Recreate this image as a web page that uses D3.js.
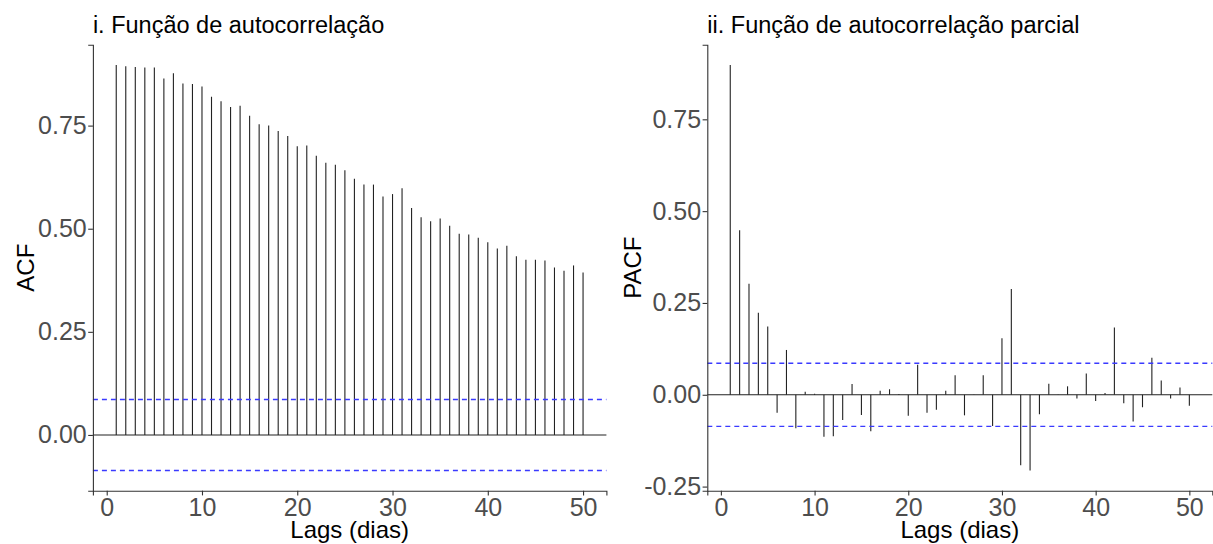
<!DOCTYPE html>
<html>
<head>
<meta charset="utf-8">
<script src="https://cdn.jsdelivr.net/npm/d3@7"></script>
<style>
  body { margin: 0; background: #fff; }
  svg { display: block; font-family: 'Liberation Sans', Arial, sans-serif; }
</style>
</head>
<body>
<div id="chart"></div>
<script>
// lags 1..50
const lags = [1,2,3,4,5,6,7,8,9,10,11,12,13,14,15,16,17,18,19,20,21,22,23,24,25,
  26,27,28,29,30,31,32,33,34,35,36,37,38,39,40,41,42,43,44,45,46,47,48,49,50]

const acfValues = [0.897,0.894,0.892,0.891,0.891,0.864,0.877,0.852,0.851,0.845,
  0.820,0.809,0.795,0.798,0.774,0.753,0.750,0.737,0.725,0.700,
  0.702,0.677,0.660,0.655,0.642,0.621,0.607,0.607,0.578,0.584,
  0.598,0.550,0.528,0.518,0.525,0.507,0.488,0.486,0.478,0.467,
  0.452,0.459,0.433,0.425,0.425,0.423,0.406,0.398,0.411,0.394]

const pacfValues = [0.898,0.448,0.302,0.223,0.186,-0.049,0.122,-0.091,0.008,0.003,
  -0.114,-0.113,-0.069,0.029,-0.055,-0.099,0.011,0.015,0.002,-0.057,
  0.082,-0.049,-0.041,0.011,0.053,-0.056,0.001,0.053,-0.085,0.154,
  0.288,-0.192,-0.206,-0.053,0.030,0.001,0.023,-0.010,0.058,-0.017,
  0.005,0.183,-0.023,-0.073,-0.034,0.101,0.039,-0.010,0.020,-0.030]

const ciBound = 0.086

const xTicks = [0, 10, 20, 30, 40, 50]
const acfTicks = [0, 0.25, 0.5, 0.75]
const pacfTicks = [-0.25, 0, 0.25, 0.5, 0.75]

const titles = ['i. Função de autocorrelação', 'ii. Função de autocorrelação parcial']
const yLabels = ['ACF', 'PACF']
const xLabel = 'Lags (dias)'

const width = 1213
const height = 544
const TICK_LEN = 4.7
const AXIS_COLOR = '#333333'
const TEXT_GREY = '#4d4d4d'

const svg = d3.select('#chart').append('svg')
  .attr('width', width)
  .attr('height', height)

// ggplot-ish 5% expansion
function expand (lo, hi) {
  const pad = (hi - lo) * 0.05
  return [lo - pad, hi + pad]
}

function drawPanel (opts) {
  const g = svg.append('g')

  const x = d3.scaleLinear()
    .domain(expand(d3.min(lags), d3.max(lags)))
    .range([opts.left, opts.right])

  const yMin = Math.min(d3.min(opts.values), -ciBound)
  const yMax = Math.max(d3.max(opts.values), ciBound)
  const y = d3.scaleLinear()
    .domain(expand(yMin, yMax))
    .range([opts.bottom, opts.top])

  // zero line
  g.append('line')
    .attr('x1', opts.left)
    .attr('x2', opts.right)
    .attr('y1', y(0))
    .attr('y2', y(0))
    .attr('stroke', '#222')
    .attr('stroke-width', 1.1)

  // spikes
  g.selectAll('.spike')
    .data(lags.map((l, i) => ({ lag: l, v: opts.values[i] })))
    .enter().append('line')
    .attr('class', 'spike')
    .attr('x1', d => x(d.lag))
    .attr('x2', d => x(d.lag))
    .attr('y1', y(0))
    .attr('y2', d => y(d.v))
    .attr('stroke', '#222')
    .attr('stroke-width', 1.1)

  // confidence bands, on top of the spikes
  g.selectAll('.ci')
    .data([ciBound, -ciBound])
    .enter().append('line')
    .attr('class', 'ci')
    .attr('x1', opts.left)
    .attr('x2', opts.right)
    .attr('y1', d => y(d))
    .attr('y2', d => y(d))
    .attr('stroke', '#3a3aff')
    .attr('stroke-width', 1.4)
    .attr('stroke-dasharray', '5,4')

  // axes
  const xAxis = g.append('g')
    .attr('transform', 'translate(0,' + opts.bottom + ')')
    .call(d3.axisBottom(x).tickValues(xTicks).tickSize(TICK_LEN).tickPadding(2.5).tickFormat(d3.format('d')))
  const yAxis = g.append('g')
    .attr('transform', 'translate(' + opts.left + ',0)')
    .call(d3.axisLeft(y).tickValues(opts.ticks).tickSize(TICK_LEN).tickPadding(1.5).tickFormat(d => d.toFixed(2)))

  ;[xAxis, yAxis].forEach(function (ax) {
    ax.select('.domain').attr('stroke', AXIS_COLOR).attr('stroke-width', 1.1)
    ax.selectAll('.tick line').attr('stroke', AXIS_COLOR).attr('stroke-width', 1.1)
    ax.selectAll('.tick text')
      .attr('fill', TEXT_GREY)
      .style('font-size', '25px')
      .style('font-family', "'Liberation Sans', Arial, sans-serif")
  })
  xAxis.selectAll('.tick text').attr('dy', '0.71em')

  // title
  g.append('text')
    .attr('x', opts.left)
    .attr('y', 33)
    .style('font-size', '23.5px')
    .attr('fill', '#000')
    .text(opts.title)

  // axis titles
  g.append('text')
    .attr('x', (opts.left + opts.right) / 2)
    .attr('y', 538)
    .attr('text-anchor', 'middle')
    .style('font-size', '24px')
    .attr('fill', '#000')
    .text(xLabel)

  g.append('text')
    .attr('transform', 'translate(' + opts.yLabelX + ',' + ((opts.top + opts.bottom) / 2) + ') rotate(-90)')
    .attr('text-anchor', 'middle')
    .style('font-size', '24px')
    .attr('fill', '#000')
    .text(opts.yLabel)
}

drawPanel({
  left: 92.9, right: 606.4, top: 44.7, bottom: 490.7,
  values: acfValues, ticks: acfTicks,
  title: titles[0], yLabel: yLabels[0], yLabelX: 34
})

drawPanel({
  left: 707.3, right: 1212.3, top: 44.7, bottom: 490.7,
  values: pacfValues, ticks: pacfTicks,
  title: titles[1], yLabel: yLabels[1], yLabelX: 641
})
</script>
</body>
</html>
